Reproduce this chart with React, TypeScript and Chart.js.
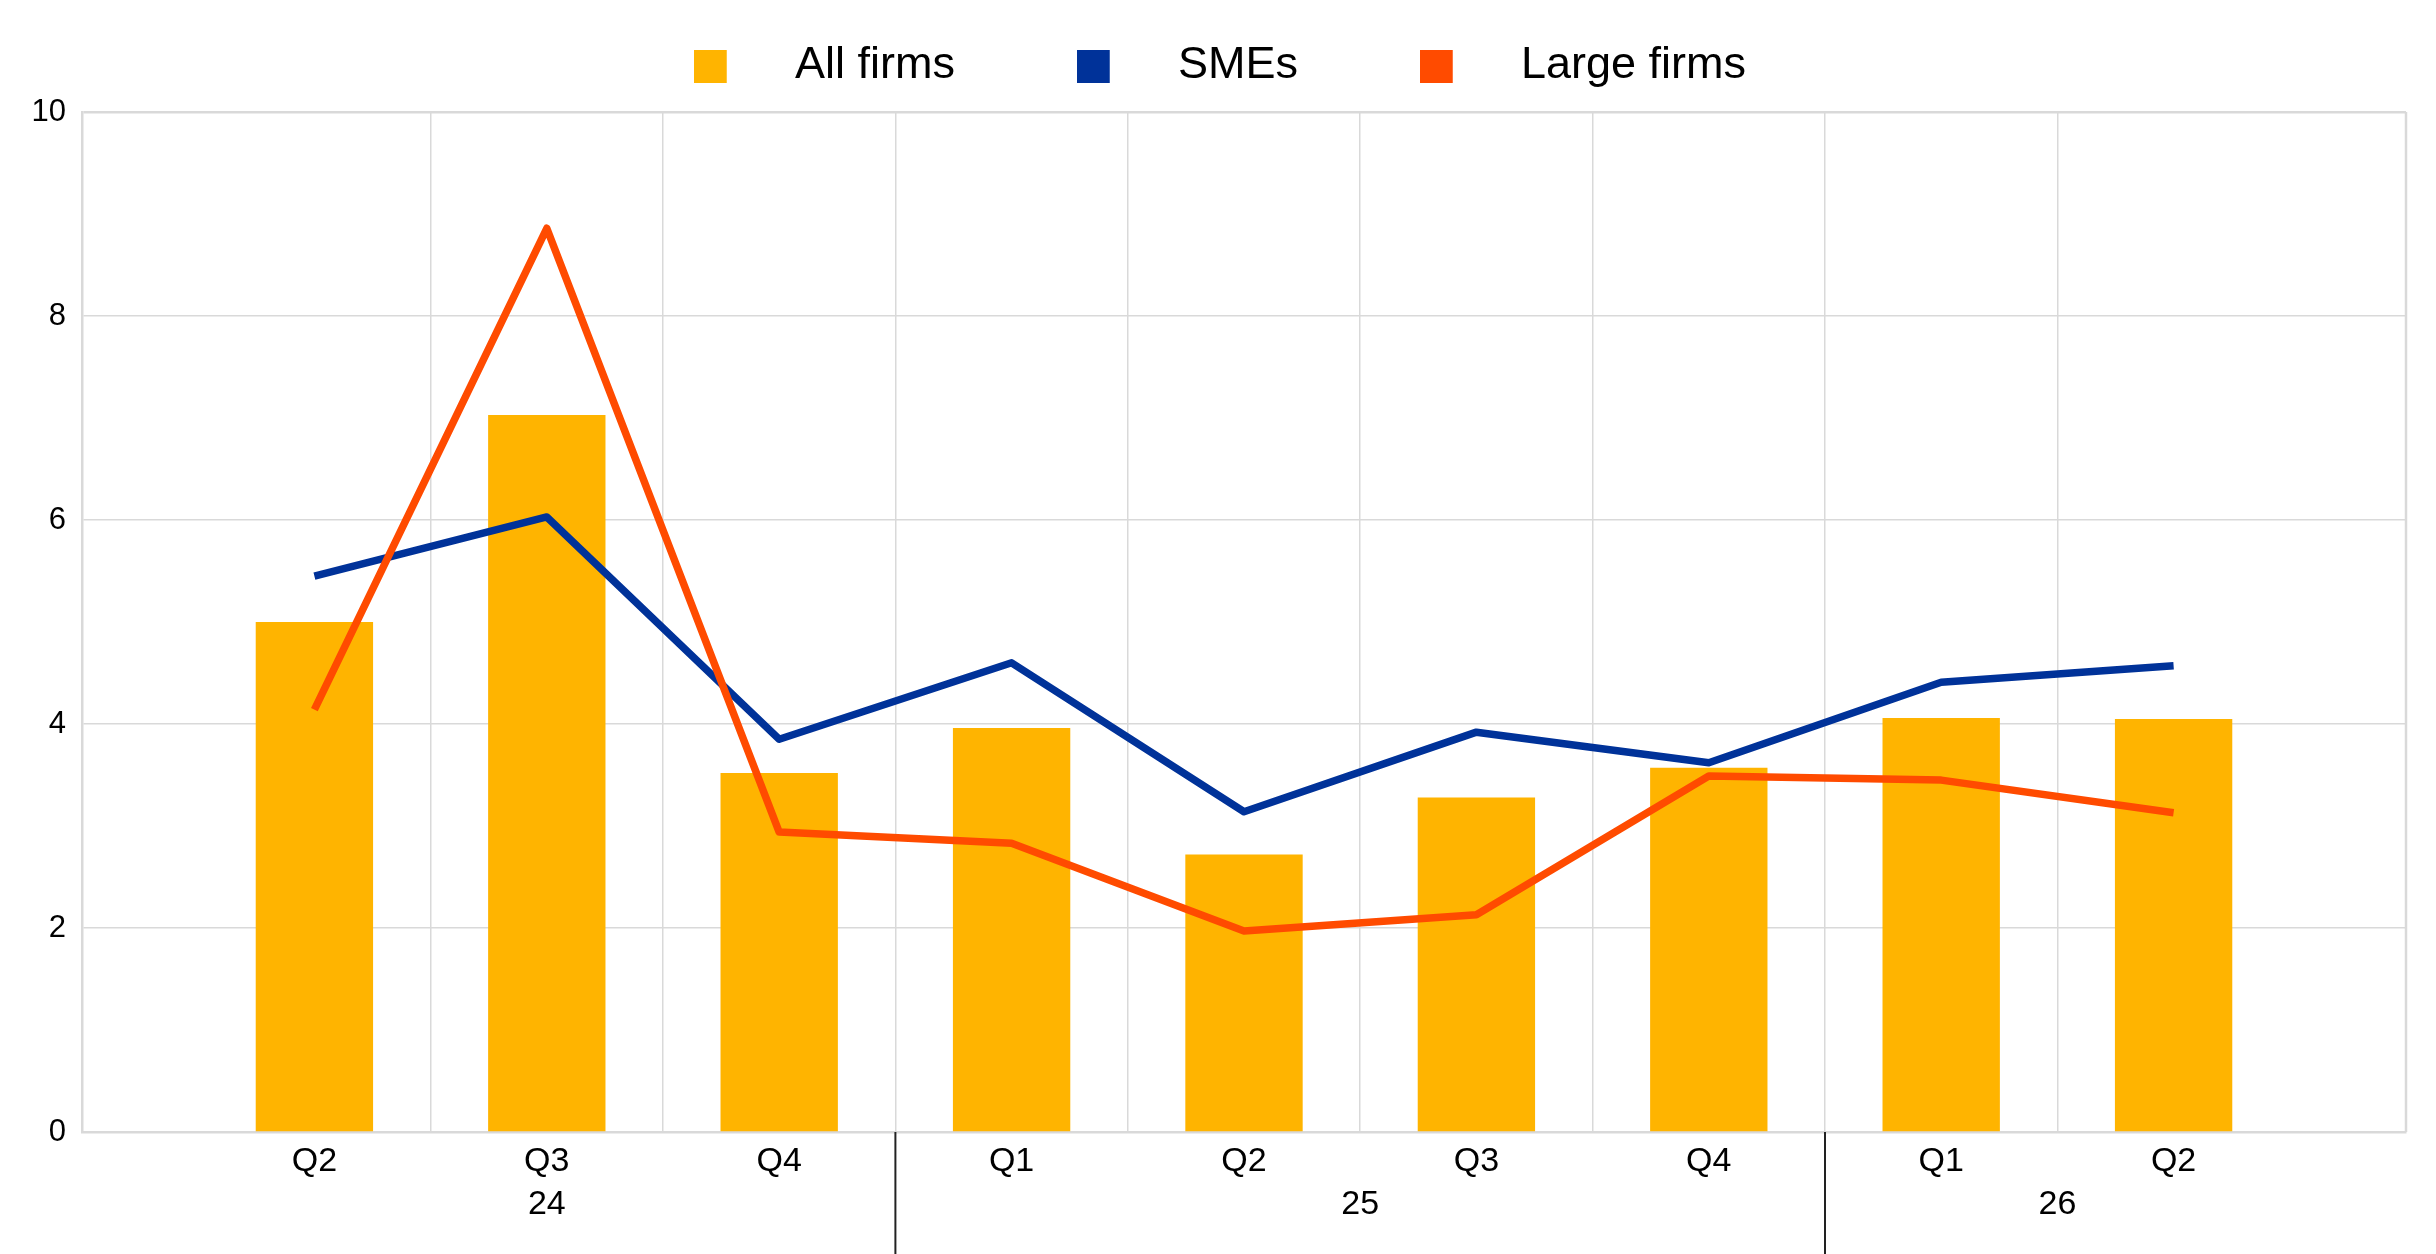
import { useEffect, useRef } from 'react'
import { Chart, registerables } from 'chart.js'

Chart.register(...registerables)

const quarters = ['Q2', 'Q3', 'Q4', 'Q1', 'Q2', 'Q3', 'Q4', 'Q1', 'Q2']
const years = ['24', '24', '24', '25', '25', '25', '25', '26', '26']
const allFirms = [5.0, 7.03, 3.52, 3.96, 2.72, 3.28, 3.57, 4.06, 4.05]
const smes = [5.45, 6.03, 3.85, 4.6, 3.14, 3.92, 3.62, 4.41, 4.57]
const largeFirms = [4.14, 8.86, 2.94, 2.83, 1.97, 2.13, 3.49, 3.45, 3.13]
const yTicks = [0, 2, 4, 6, 8, 10]

const YELLOW = '#FFB400'
const BLUE = '#003299'
const ORANGE = '#FF4B00'
const GRID = '#d9d9d9'
const FONT = "'Liberation Sans', Arial, sans-serif"

// an empty slot on each side of the quarters
const labels = ['', ...quarters, '']
const pad = (values: number[]) => [null, ...values, null]

function legendSwatch(color: string) {
  const c = document.createElement('canvas')
  c.width = 45
  c.height = 33
  const ctx = c.getContext('2d')
  if (ctx) {
    ctx.fillStyle = color
    ctx.fillRect(0, 0, 33, 33)
  }
  return c
}

// year labels under the quarters, with separators between years
const yearGroups = {
  id: 'yearGroups',
  afterDraw(chart: any) {
    const x = chart.scales.x
    const { ctx } = chart
    const groups: { year: string; first: number; last: number }[] = []
    years.forEach((year, i) => {
      const g = groups[groups.length - 1]
      if (g && g.year === year) g.last = i + 1
      else groups.push({ year, first: i + 1, last: i + 1 })
    })
    ctx.save()
    ctx.font = `34px ${FONT}`
    ctx.fillStyle = '#000'
    ctx.textAlign = 'center'
    ctx.textBaseline = 'middle'
    ctx.strokeStyle = '#222'
    ctx.lineWidth = 2
    groups.forEach((g, i) => {
      const centre = x.getPixelForValue((g.first + g.last) / 2)
      ctx.fillText(g.year, centre, x.top + 73)
      if (i > 0) {
        const sep = x.getPixelForValue(g.first - 0.5)
        ctx.beginPath()
        ctx.moveTo(sep, x.top)
        ctx.lineTo(sep, chart.height)
        ctx.stroke()
      }
    })
    const { top, bottom, right } = chart.chartArea
    ctx.strokeStyle = GRID
    ctx.lineWidth = 2.5
    ctx.beginPath()
    ctx.moveTo(right, top)
    ctx.lineTo(right, bottom)
    ctx.stroke()
    ctx.restore()
  }
}

// extra room between legend and plot
const legendGap = {
  id: 'legendGap',
  beforeInit(chart: any) {
    const legend = chart.legend
    if (!legend || legend._gapped) return
    const fit = legend.fit
    legend.fit = function () {
      fit.call(legend)
      legend.height += 13.5
    }
    legend._gapped = true
  }
}

export default function App() {
  const chartRef = useRef<HTMLCanvasElement | null>(null)

  useEffect(() => {
    if (!chartRef.current) return
    const ctx = chartRef.current.getContext('2d')
    if (!ctx) return

    Chart.defaults.font.family = FONT

    const chart = new Chart(ctx, {
      type: 'bar',
      data: {
        labels,
        datasets: [
          {
            label: 'All firms',
            data: pad(allFirms),
            backgroundColor: YELLOW,
            borderWidth: 0,
            categoryPercentage: 1,
            barPercentage: 0.505,
            pointStyle: legendSwatch(YELLOW),
            order: 2
          },
          {
            type: 'line',
            label: 'SMEs',
            data: pad(smes),
            borderColor: BLUE,
            backgroundColor: BLUE,
            borderWidth: 7.5,
            borderJoinStyle: 'round',
            pointRadius: 0,
            pointStyle: legendSwatch(BLUE),
            fill: false,
            order: 1
          },
          {
            type: 'line',
            label: 'Large firms',
            data: pad(largeFirms),
            borderColor: ORANGE,
            backgroundColor: ORANGE,
            borderWidth: 7.5,
            borderJoinStyle: 'round',
            pointRadius: 0,
            pointStyle: legendSwatch(ORANGE),
            fill: false,
            order: 0
          }
        ] as any
      },
      options: {
        animation: false,
        responsive: true,
        maintainAspectRatio: false,
        layout: { padding: { top: -44.5, right: 30, bottom: 0, left: 0 } },
        plugins: {
          legend: {
            position: 'top',
            labels: {
              usePointStyle: true,
              pointStyleWidth: 112.5,
              boxHeight: 33,
              padding: 88,
              color: '#000',
              font: { size: 45, family: FONT },
              sort: (a: any, b: any) => a.datasetIndex - b.datasetIndex
            }
          },
          tooltip: { enabled: false }
        },
        scales: {
          x: {
            offset: false,
            grid: {
              offset: true,
              drawTicks: false,
              lineWidth: 1.5,
              color: (c: any) => (c.index >= 2 && c.index <= quarters.length ? GRID : 'transparent')
            },
            border: { color: GRID, width: 2.5 },
            ticks: {
              autoSkip: false,
              maxRotation: 0,
              padding: 9,
              color: '#000',
              font: { size: 34, family: FONT }
            },
            afterFit: (s: any) => {
              s.height = 122
            }
          },
          y: {
            min: 0,
            max: 10,
            afterBuildTicks: (s: any) => {
              s.ticks = yTicks.map(v => ({ value: v }))
            },
            grid: {
              drawTicks: false,
              color: GRID,
              lineWidth: (c: any) => (c.tick && c.tick.value === 10 ? 2.5 : 1.5)
            },
            border: { color: GRID, width: 2.5 },
            ticks: {
              padding: 16,
              color: '#000',
              font: { size: 31, family: FONT }
            },
            afterFit: (s: any) => {
              s.width = 82
            }
          }
        }
      } as any,
      plugins: [legendGap, yearGroups]
    })

    return () => {
      chart.destroy()
    }
  }, [])

  return (
    <div style={{ position: 'fixed', left: 0, top: 0, width: 2436, height: 1254, background: '#fff' }}>
      <canvas ref={chartRef} />
    </div>
  )
}
